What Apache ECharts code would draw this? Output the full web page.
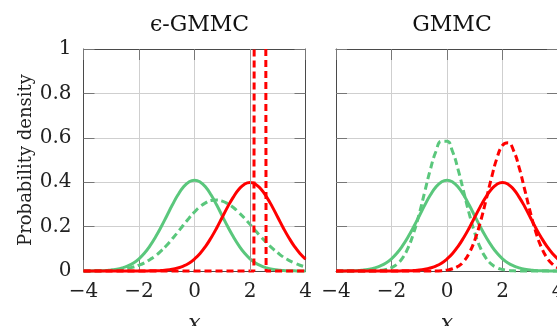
<!DOCTYPE html>
<html>
<head>
<meta charset="utf-8">
<script src="https://cdn.jsdelivr.net/npm/echarts@6/dist/echarts.min.js"></script>
<style>
  html, body { margin: 0; padding: 0; background: #fff; }
  #chart { width: 557px; height: 326px; }
</style>
</head>
<body>
<div id="chart"></div>
<script>
  // sample points along x
  const xs = [-4, -3.8, -3.6, -3.4, -3.2, -3, -2.8, -2.6, -2.4, -2.2, -2, -1.8, -1.6, -1.4, -1.2, -1, -0.8, -0.6, -0.4, -0.2,
    0, 0.2, 0.4, 0.6, 0.8, 1, 1.2, 1.4, 1.6, 1.8, 2, 2.2, 2.4, 2.6, 2.8, 3, 3.2, 3.4, 3.6, 3.8, 4];

  // true class densities (same in both panels)
  const greenSolid = [0, 0, 0.001, 0.001, 0.002, 0.005, 0.008, 0.014, 0.023, 0.036, 0.055, 0.081, 0.114, 0.154, 0.199, 0.248, 0.297, 0.342, 0.378, 0.401,
    0.409, 0.401, 0.378, 0.342, 0.297, 0.248, 0.199, 0.154, 0.114, 0.081, 0.055, 0.036, 0.023, 0.014, 0.008, 0.005, 0.002, 0.001, 0.001, 0, 0];
  const redSolid = [0, 0, 0, 0, 0, 0, 0, 0, 0, 0, 0, 0, 0.001, 0.001, 0.002, 0.004, 0.008, 0.014, 0.022, 0.035,
    0.054, 0.079, 0.111, 0.150, 0.194, 0.242, 0.290, 0.333, 0.368, 0.391, 0.399, 0.391, 0.368, 0.333, 0.290, 0.242, 0.194, 0.150, 0.111, 0.079, 0.054];

  // eps-GMMC fitted densities
  const epsGreenDashed = [0, 0, 0.001, 0.001, 0.002, 0.003, 0.005, 0.008, 0.012, 0.018, 0.026, 0.037, 0.052, 0.069, 0.091, 0.116, 0.145, 0.175, 0.207, 0.238,
    0.266, 0.290, 0.307, 0.318, 0.320, 0.315, 0.303, 0.286, 0.263, 0.238, 0.210, 0.181, 0.153, 0.127, 0.103, 0.082, 0.063, 0.048, 0.036, 0.026, 0.018];
  // narrow spike: both flanks run off the top of the plot
  const epsRedSpikeX = [-4, 2.14, 2.15, 2.36, 2.57, 2.58, 4];
  const epsRedSpikeY = [0, 0, 1, '-', 1, 0, 0];
  const epsMarkX = 2;

  // GMMC fitted densities
  const gmmcGreenDashed = [0, 0, 0, 0, 0, 0, 0, 0.001, 0.003, 0.007, 0.015, 0.031, 0.059, 0.105, 0.172, 0.258, 0.358, 0.457, 0.538, 0.584,
    0.584, 0.538, 0.457, 0.358, 0.258, 0.172, 0.105, 0.059, 0.031, 0.015, 0.007, 0.003, 0.001, 0, 0, 0, 0, 0, 0, 0, 0];
  const gmmcRedDashed = [0, 0, 0, 0, 0, 0, 0, 0, 0, 0, 0, 0, 0, 0, 0, 0, 0, 0, 0, 0.001,
    0.004, 0.010, 0.021, 0.043, 0.081, 0.139, 0.219, 0.316, 0.418, 0.508, 0.566, 0.578, 0.542, 0.466, 0.367, 0.266, 0.176, 0.107, 0.060, 0.031, 0.014];

  const titles = ['\u03f5-GMMC', 'GMMC'];

  const GREEN = '#5ac77c';
  const RED = '#ff0000';
  const FONT = 'DejaVu Serif';
  const gridLefts = [83.5, 336];

  const pairs = (xv, yv) => xv.map((x, i) => [x, yv[i]]);
  const minus = (v) => String(v).replace('-', '\u2212');

  const frame = { show: true, onZero: false, lineStyle: { color: '#4a4a4a', width: 1 } };
  const ticks = { show: true, inside: true, length: 11, lineStyle: { color: '#777' } };

  let grids = [], xAxes = [], yAxes = [], series = [], title = [];
  gridLefts.forEach((left, i) => {
    grids.push({ left: left, top: 49, width: 222, height: 222, outerBoundsMode: 'none', containLabel: false });
    title.push({
      text: titles[i], left: left + 111, top: 9, textAlign: 'center',
      textStyle: { fontFamily: FONT, fontWeight: 'normal', fontSize: 22, color: '#111' }
    });
    xAxes.push({
      gridIndex: i, type: 'value', min: -4, max: 4, interval: 2, position: 'bottom',
      axisLine: frame, axisTick: ticks,
      axisLabel: { formatter: minus, fontFamily: FONT, fontSize: 20, color: '#222', margin: 11 },
      splitLine: { show: true, lineStyle: { color: '#cfcfcf', width: 1 } },
      name: 'x', nameLocation: 'middle', nameGap: 42,
      nameTextStyle: { fontFamily: FONT, fontStyle: 'italic', fontSize: 22, color: '#222' }
    });
    xAxes.push({
      gridIndex: i, type: 'value', min: -4, max: 4, interval: 2, position: 'top',
      axisLine: frame, axisTick: ticks, axisLabel: { show: false }, splitLine: { show: false }
    });
    yAxes.push({
      gridIndex: i, type: 'value', min: 0, max: 1, interval: 0.2, position: 'left',
      axisLine: frame, axisTick: ticks,
      axisLabel: { show: i === 0, fontFamily: FONT, fontSize: 20, color: '#222', margin: 12 },
      splitLine: { show: true, lineStyle: { color: '#cfcfcf', width: 1 } },
      name: i === 0 ? 'Probability density' : '', nameLocation: 'middle', nameGap: 37,
      nameTextStyle: { fontFamily: FONT, fontSize: 18, color: '#222' }
    });
    yAxes.push({
      gridIndex: i, type: 'value', min: 0, max: 1, interval: 0.2, position: 'right',
      axisLine: frame, axisTick: ticks, axisLabel: { show: false }, splitLine: { show: false }
    });
  });

  function line(gi, data, color, dashed, smooth) {
    return {
      type: 'line', xAxisIndex: gi * 2, yAxisIndex: gi * 2, data: data,
      showSymbol: false, smooth: smooth, clip: false, connectNulls: false, animation: false,
      lineStyle: { color: color, width: 3, type: dashed ? [7, 4] : 'solid' }
    };
  }

  // left panel: eps-GMMC
  const mark = line(0, [], '#999', false, false);
  mark.markLine = {
    silent: true, symbol: 'none', label: { show: false }, animation: false,
    lineStyle: { color: '#9a9a9a', type: 'solid', width: 1 }, data: [{ xAxis: epsMarkX }]
  };
  series.push(mark);
  series.push(line(0, pairs(xs, greenSolid), GREEN, false, true));
  series.push(line(0, pairs(xs, epsGreenDashed), GREEN, true, true));
  series.push(line(0, pairs(xs, redSolid), RED, false, true));
  series.push(line(0, pairs(epsRedSpikeX, epsRedSpikeY), RED, true, false));
  // right panel: GMMC
  series.push(line(1, pairs(xs, greenSolid), GREEN, false, true));
  series.push(line(1, pairs(xs, gmmcGreenDashed), GREEN, true, true));
  series.push(line(1, pairs(xs, redSolid), RED, false, true));
  series.push(line(1, pairs(xs, gmmcRedDashed), RED, true, true));

  const chart = echarts.init(document.getElementById('chart'));
  chart.setOption({
    animation: false,
    title: title,
    grid: grids,
    xAxis: xAxes,
    yAxis: yAxes,
    series: series
  });
</script>
</body>
</html>
